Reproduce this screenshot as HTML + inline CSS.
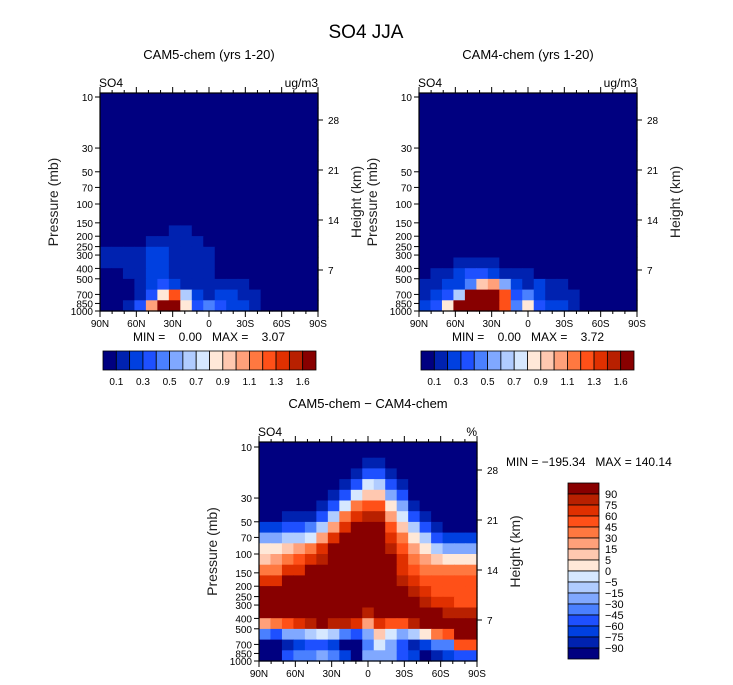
<!DOCTYPE html>
<html><head><meta charset="utf-8">
<style>
html,body{margin:0;padding:0;background:#fff;}
svg{display:block;font-family:"Liberation Sans",sans-serif;}
.pre{white-space:pre;}
</style></head>
<body>
<svg id="fig" width="733" height="685" viewBox="0 0 733 685">
<text x="366" y="38" font-size="19" text-anchor="middle">SO4 JJA</text>
</svg>
<script>
// ---- data ----
const latLabels = ["90N","60N","30N","0","30S","60S","90S"];
const pressTicks = [10,30,50,70,100,150,200,250,300,400,500,700,850,1000];
const heightTicks = [28,21,14,7];
const colors = ["#000080","#0022b0","#0040e0","#1e50ff","#4a80ff","#80a8ff","#b0ccff","#d6e8ff","#ffe8d8","#ffc8b0","#ffa07a","#ff7840","#ff5018","#e03000","#b82000","#880000"];
const hLabels = ["0.1","0.3","0.5","0.7","0.9","1.1","1.3","1.6"];
const vLabels = ["90","75","60","45","30","15","5","0","\u22125","\u221215","\u221230","\u221245","\u221260","\u221275","\u221290"];
// level indices (hex) per pressure row (top 10 hPa -> bottom 1000 hPa), 19 lat columns 90N->90S
const cam5Rows = ["0000000000000000000","0000000000000000000","0000000000000000000","0000000000000000000","0000000000000000000","0000000000000000000","0000000000000000000","0000000000000000000","0000000000000000000","0000000000000000000","0000000000000000000","0000000000000000000","0000001100000000000","0000111110000000000","1111221111000000000","1111221111000000000","0011221111000000000","0001232111111000000","000138c621221100000","0013aff834322100000"];
const cam4Rows = ["0000000000000000000","0000000000000000000","0000000000000000000","0000000000000000000","0000000000000000000","0000000000000000000","0000000000000000000","0000000000000000000","0000000000000000000","0000000000000000000","0000000000000000000","0000000000000000000","0000000000000000000","0000000000000000000","0000000000000000000","0001111000000000000","0112332111000000000","112249a521211000000","1236fffc34211100000","238ffffc48322100000"];
// difference: per lat column (90N->90S), 20 pressure rows top->bottom
const diffCols = ["00000002589bdfffa400","0000000258abdfffb300","0000001369bdffffc513","000000136acdffffd524","000000147bdfffffe634","00000136adeffffff735","0000136adfffffffe624","000137bdffffffffe402","00137bdfffffffffd300","01379ceffffffffea545","01369cefffffffffd975","001358acdeffffffc755","00013579bcddefffc533","000001368abcdeffe612","0000001368abcdeff820","00000001369bccdffb41","00000000258bccdefc42","00000000258bccceffc3","00000000258bccceffc3"];

const NS="http://www.w3.org/2000/svg";
const svg=document.getElementById('fig');
function mk(tag,attrs,parent){const e=document.createElementNS(NS,tag);for(const k in attrs)e.setAttribute(k,attrs[k]);(parent||svg).appendChild(e);return e;}
function txt(x,y,s,size,anchor,parent,extra){const t=mk('text',Object.assign({x:x,y:y,'font-size':size,'text-anchor':anchor||'start'},extra||{}),parent);t.textContent=s;return t;}

function panel(P){
  const g=mk('g',{});
  
  
  const W=P.x1-P.x0;
  const yP=p=>P.y10+(Math.log10(p)-1)/2*(P.y1000-P.y10);
  const xL=lat=>P.x0+(90-lat)/180*W;
  const nc=19,nr=20,cw=W/nc;
  for(let r=0;r<nr;r++){for(let c=0;c<nc;c++){
    const lv=parseInt(P.get(r,c),16);
    const yt=r===0?P.top:yP(Math.pow(10,1+r*0.1));
    const yb=yP(Math.pow(10,1+(r+1)*0.1));
    const cell=mk('rect',{x:(P.x0+c*cw).toFixed(2),y:yt.toFixed(2),width:(cw+0.6).toFixed(2),height:(yb-yt+0.6).toFixed(2),fill:colors[lv]},g);
    
    
  }}
  const fr=mk('rect',{x:P.x0,y:P.top,width:W,height:P.y1000-P.top,fill:'none',stroke:'#000','stroke-width':1.2},g);
  
  
  for(let lat=90;lat>=-90;lat-=10){
    const x=xL(lat),maj=lat%30===0,len=maj?6:3;
    mk('line',{x1:x,y1:P.y1000,x2:x,y2:P.y1000+len,stroke:'#000'},g);
    mk('line',{x1:x,y1:P.top,x2:x,y2:P.top-len,stroke:'#000'},g);
  }
  latLabels.forEach((s,i)=>{const t=txt(xL(90-i*30),P.y1000+16,s,10,'middle',g);
    });
  pressTicks.forEach(p=>{const y=yP(p);mk('line',{x1:P.x0,y1:y,x2:P.x0-5,y2:y,stroke:'#000'},g);
    const t=txt(P.x0-7,y+4,String(p),10,'end',g);
    });
  heightTicks.forEach((h,i)=>{const y=P.y10+23+i*50;mk('line',{x1:P.x1,y1:y,x2:P.x1+5,y2:y,stroke:'#000'},g);
    const t=txt(P.x1+10,y+4,String(h),10,'start',g);
    });
  const yl=txt(0,0,'Pressure (mb)',14,'middle',g,{transform:`translate(${P.x0-42},${(P.top+P.y1000)/2}) rotate(-90)`,fill:'#222'});
  
  const hl=txt(0,0,'Height (km)',14,'middle',g,{transform:`translate(${P.x1+43},${(P.top+P.y1000)/2}) rotate(-90)`,fill:'#222'});
  
  const st=txt((P.x0+P.x1)/2,P.top-34,P.title,13,'middle',g);
  
  const vn=txt(P.x0-1,P.top-6,'SO4',12,'start',g);
  
  const un=txt(P.x1,P.top-6,P.units,12,'end',g);
  
  if(P.minmax){const mm=txt(P.mmx,P.mmy,P.minmax,12,P.mma,g,{'class':'pre'});
    }
}

panel({name:'cam5-panel',x0:100,x1:318,top:93,y10:97,y1000:311,title:'CAM5-chem (yrs 1-20)',units:'ug/m3',
  get:(r,c)=>cam5Rows[r][c],minmax:'MIN =    0.00   MAX =    3.07',mmx:209,mmy:341,mma:'middle'});
panel({name:'cam4-panel',x0:419,x1:637,top:93,y10:97,y1000:311,title:'CAM4-chem (yrs 1-20)',units:'ug/m3',
  get:(r,c)=>cam4Rows[r][c],minmax:'MIN =    0.00   MAX =    3.72',mmx:528,mmy:341,mma:'middle'});
panel({name:'diff-panel',x0:259,x1:477,top:442,y10:447,y1000:661,title:'CAM5-chem \u2212 CAM4-chem',units:'%',
  get:(r,c)=>diffCols[c][r],minmax:'MIN = \u2212195.34   MAX = 140.14',mmx:506,mmy:466,mma:'start'});

function hbar(x0,name){
  const g=mk('g',{});
  
  
  const w=213/16;
  colors.forEach((c,i)=>{const b=mk('rect',{x:x0+i*w,y:351,width:w,height:19,fill:c,stroke:'#000','stroke-width':0.8},g);
    });
  hLabels.forEach((s,i)=>{const t=txt(x0+(2*i+1)*w,385,s,10,'middle',g);
    });
}
hbar(103,'cam5-colorbar');
hbar(421,'cam4-colorbar');
(function(){
  const g=mk('g',{});
  
  
  const h=176/16;
  for(let i=0;i<16;i++){const b=mk('rect',{x:568,y:483+i*h,width:31,height:h,fill:colors[15-i],stroke:'#000','stroke-width':0.8},g);
    }
  vLabels.forEach((s,i)=>{const t=txt(605,483+(i+1)*h+4,s,11,'start',g);
    });
})();
</script>
</body></html>
